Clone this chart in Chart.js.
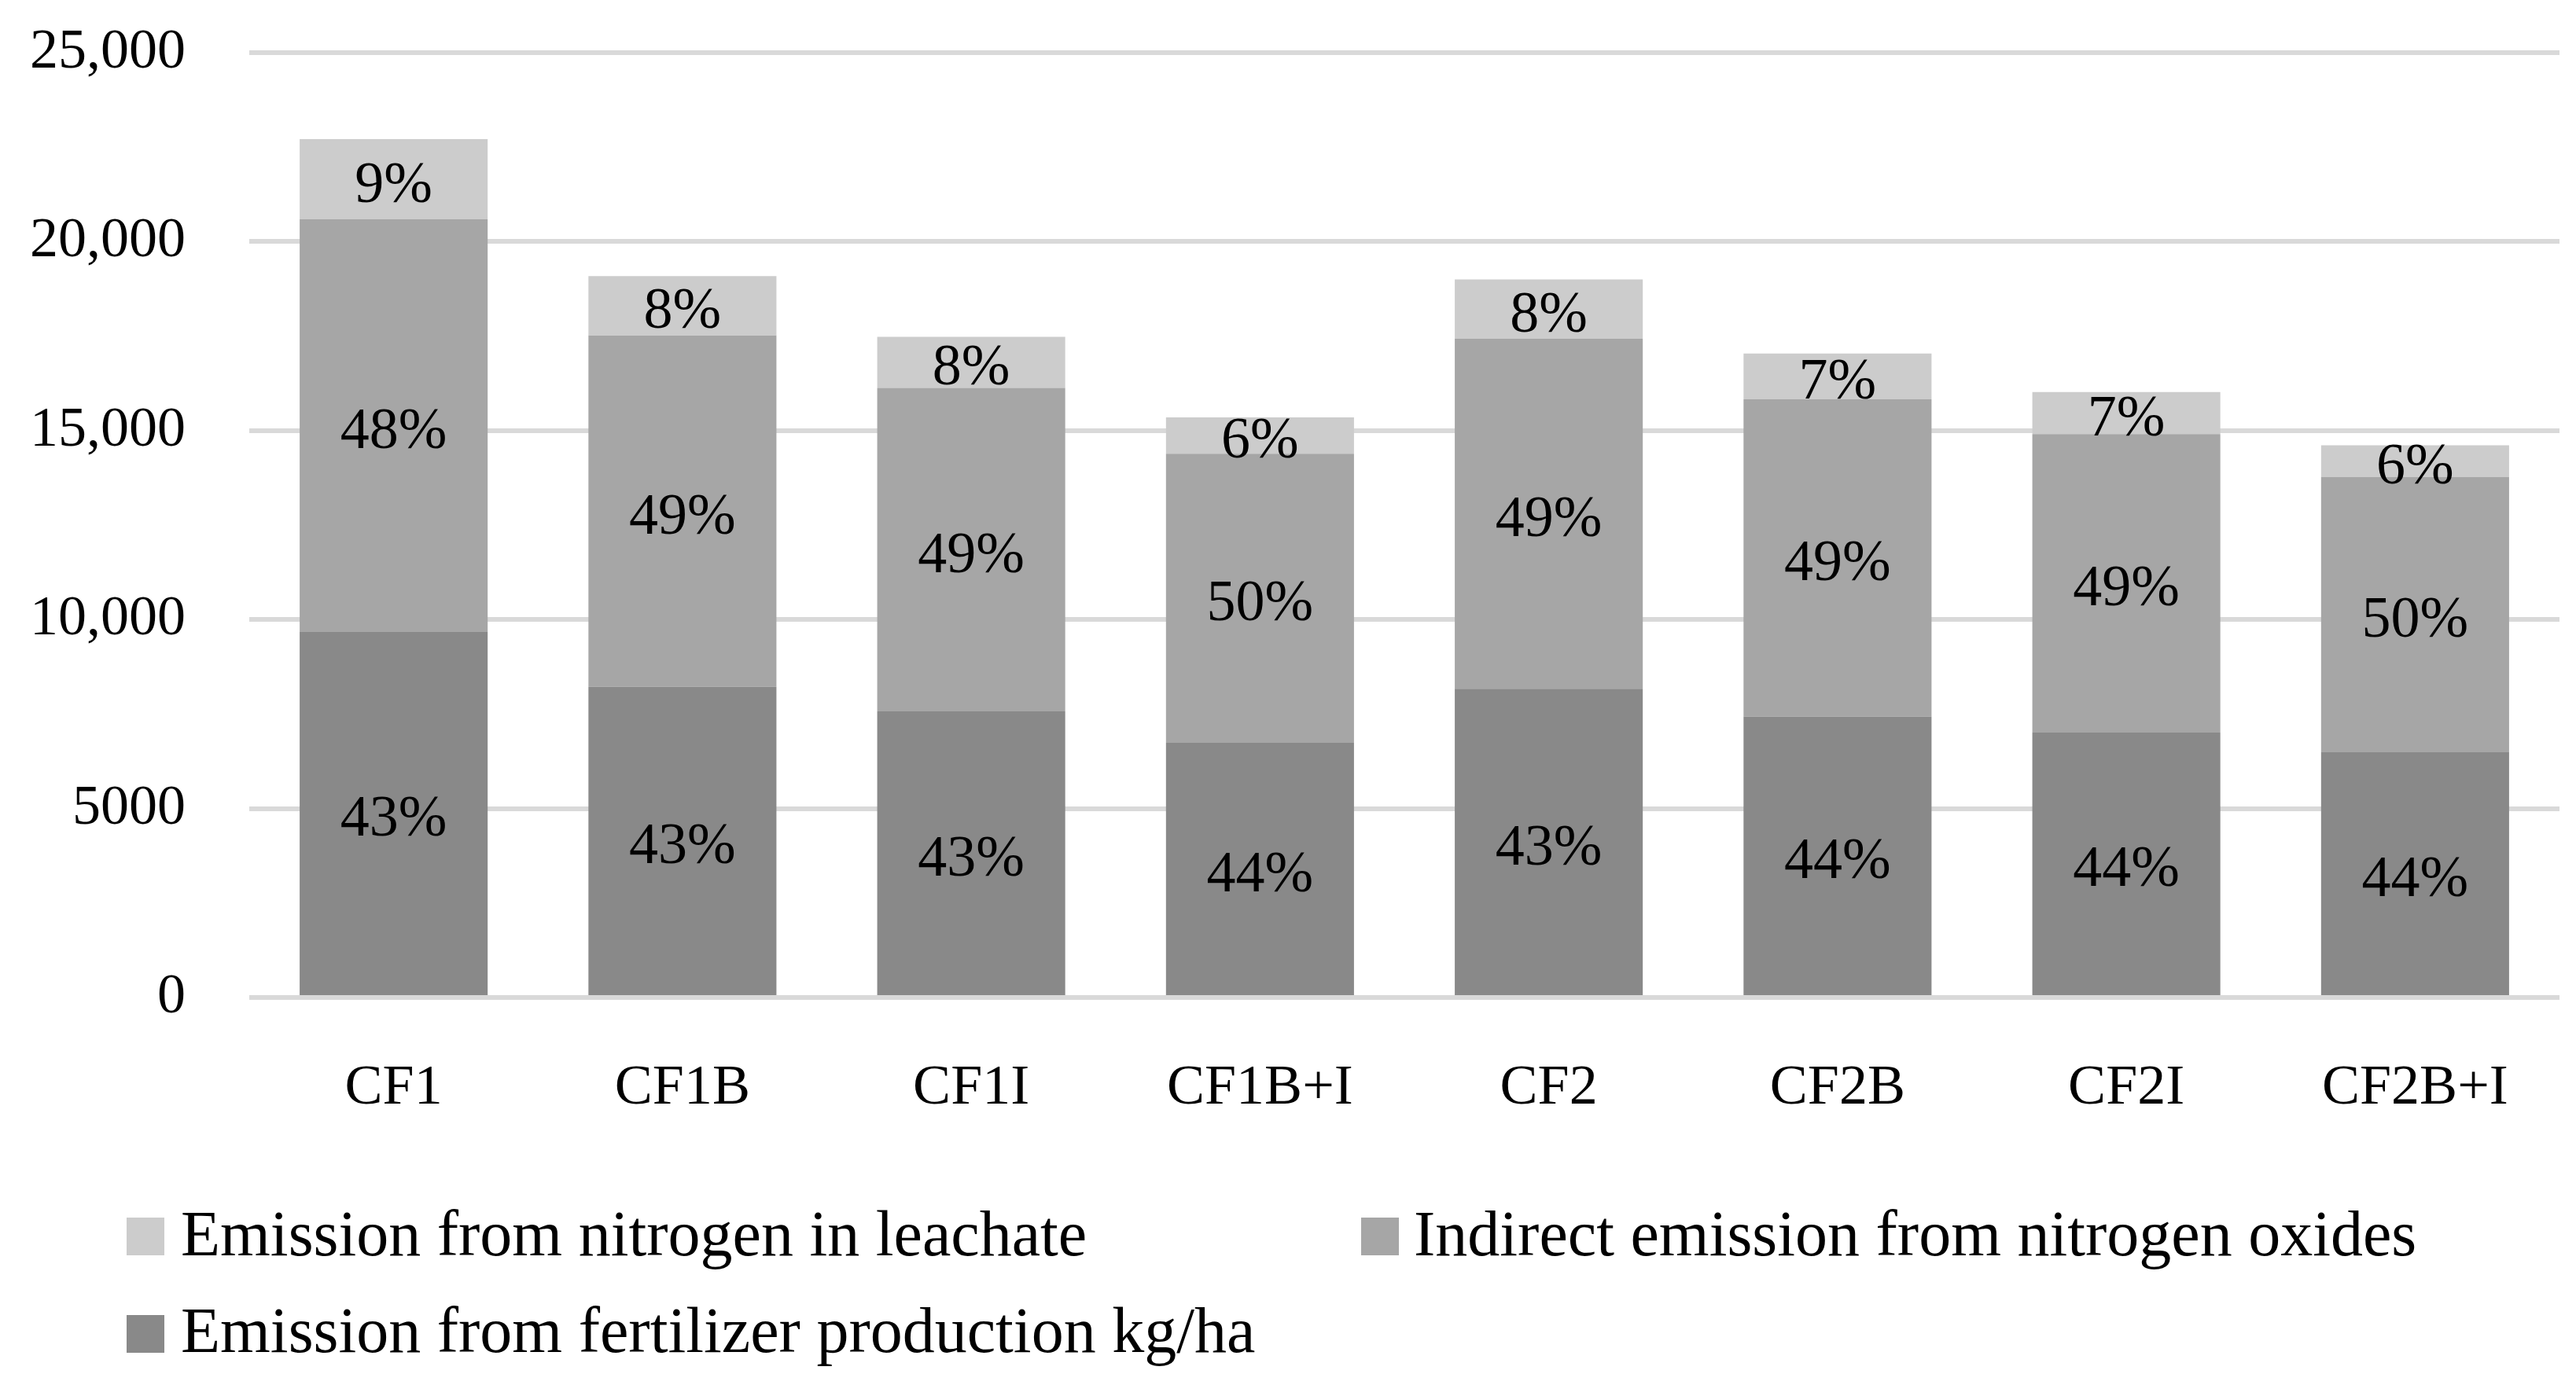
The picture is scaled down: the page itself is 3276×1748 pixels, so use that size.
<!DOCTYPE html>
<html><head><meta charset="utf-8">
<script src="https://cdn.jsdelivr.net/npm/chart.js@4.4.0/dist/chart.umd.min.js"></script>
<style>html,body{margin:0;padding:0;background:#fff;} canvas{display:block;}</style>
</head><body>
<canvas id="c" width="3276" height="1748" style="width:3276px;height:1748px"></canvas>
<script>
const categories = ['CF1', 'CF1B', 'CF1I', 'CF1B+I', 'CF2', 'CF2B', 'CF2I', 'CF2B+I'];
const fertilizerProduction = [9670, 8220, 7570, 6740, 8170, 7430, 7010, 6490];
const indirectNitrogenOxides = [10920, 9300, 8560, 7650, 9260, 8400, 7900, 7280];
const nitrogenLeachate = [2120, 1570, 1350, 960, 1570, 1210, 1110, 840];
const seriesNames = ['Emission from fertilizer production kg/ha', 'Indirect emission from nitrogen oxides', 'Emission from nitrogen in leachate'];
const seriesColors = ['#898989', '#a6a6a6', '#cccccc'];
const yTickValues = [0, 5000, 10000, 15000, 20000, 25000];
const yTickLabels = ['0', '5000', '10,000', '15,000', '20,000', '25,000'];

const FONT = "'Liberation Serif', 'Times New Roman', serif";
const totals = categories.map((_, i) => fertilizerProduction[i] + indirectNitrogenOxides[i] + nitrogenLeachate[i]);

const pctLabels = {
  id: 'pctLabels',
  afterDatasetsDraw(chart) {
    const ctx = chart.ctx;
    ctx.save();
    ctx.font = '74px ' + FONT;
    ctx.fillStyle = '#000';
    ctx.textAlign = 'center';
    ctx.textBaseline = 'middle';
    chart.data.datasets.forEach((ds, di) => {
      const meta = chart.getDatasetMeta(di);
      meta.data.forEach((bar, j) => {
        const p = bar.getProps(['x', 'y', 'base'], true);
        const pct = Math.round(ds.data[j] / totals[j] * 100) + '%';
        ctx.fillText(pct, p.x, (p.y + p.base) / 2 + 9);
      });
    });
    ctx.restore();
  }
};

const customLegend = {
  id: 'customLegend',
  afterDraw(chart) {
    const ctx = chart.ctx;
    const ds = chart.data.datasets;
    const items = [
      {i: 2, bx: 161, by: 1549, tx: 230, ty: 1597},
      {i: 1, bx: 1731, by: 1549, tx: 1798, ty: 1597},
      {i: 0, bx: 161, by: 1673, tx: 230, ty: 1720}
    ];
    ctx.save();
    ctx.font = '82px ' + FONT;
    ctx.textAlign = 'left';
    ctx.textBaseline = 'alphabetic';
    items.forEach(it => {
      ctx.fillStyle = ds[it.i].backgroundColor;
      ctx.fillRect(it.bx, it.by, 48, 48);
      ctx.fillStyle = '#000';
      ctx.fillText(ds[it.i].label, it.tx, it.ty);
    });
    ctx.restore();
  }
};

const seriesData = [fertilizerProduction, indirectNitrogenOxides, nitrogenLeachate];

new Chart(document.getElementById('c'), {
  type: 'bar',
  data: {
    labels: categories,
    datasets: seriesData.map((d, k) => ({
      label: seriesNames[k],
      data: d,
      backgroundColor: seriesColors[k],
      borderWidth: 0,
      barPercentage: 0.651,
      categoryPercentage: 1.0
    }))
  },
  options: {
    responsive: false,
    animation: false,
    devicePixelRatio: 1,
    layout: {padding: {top: 67, right: 21, left: 0, bottom: 0}},
    plugins: {legend: {display: false}, tooltip: {enabled: false}},
    scales: {
      x: {
        stacked: true,
        grid: {display: false},
        border: {display: false},
        ticks: {font: {family: FONT, size: 72}, color: '#000', padding: 65, maxRotation: 0},
        afterFit(scale) { scale.height = 479; }
      },
      y: {
        stacked: true,
        min: 0,
        max: 25000,
        afterBuildTicks(scale) { scale.ticks = yTickValues.map(v => ({value: v})); },
        ticks: {
          font: {family: FONT, size: 72},
          color: '#000',
          padding: 20,
          callback: (v) => yTickLabels[yTickValues.indexOf(v)]
        },
        grid: {color: '#d9d9d9', lineWidth: 6, drawTicks: true, tickLength: 61, tickColor: 'rgba(0,0,0,0)'},
        border: {display: false},
        afterFit(scale) { scale.width = 317; }
      }
    }
  },
  plugins: [pctLabels, customLegend]
});
</script>
</body></html>
